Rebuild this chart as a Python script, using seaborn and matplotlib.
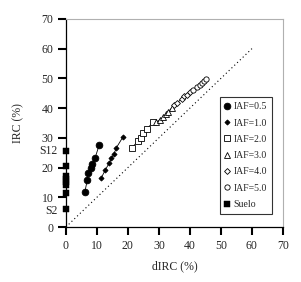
import matplotlib
matplotlib.use("Agg")
import matplotlib.pyplot as plt
import seaborn as sns

# datos
x_05 = [6.1, 6.9, 7.2, 8.0, 8.3, 9.4, 10.7]
y_05 = [11.8, 15.8, 18.1, 19.8, 21.2, 23.2, 27.5]
x_10 = [11.4, 12.7, 13.9, 14.7, 15.5, 16.3, 18.4]
y_10 = [16.5, 19.2, 21.4, 23.1, 24.6, 26.7, 30.3]
x_20 = [21.3, 23.3, 24.1, 24.9, 26.0, 28.2]
y_20 = [26.6, 29.0, 30.1, 31.5, 32.9, 35.3]
x_30 = [29.2, 30.3, 31.4, 32.2, 33.0, 34.1]
y_30 = [35.2, 36.1, 37.1, 38.0, 38.8, 40.0]
x_40 = [35.0, 35.8, 37.3, 38.2, 38.9, 40.0]
y_40 = [40.9, 41.6, 43.2, 43.9, 44.4, 45.3]
x_50 = [41.1, 42.4, 43.1, 43.8, 44.6, 45.3]
y_50 = [46.1, 47.2, 47.8, 48.4, 49.1, 49.8]
suelo_y = [6.1, 11.3, 14.2, 15.2, 16.2, 17.1, 20.5, 25.4]
suelo_x = [0] * len(suelo_y)
uno_a_uno = [0, 60]

sns.set_style("ticks")
plt.rcParams['font.family'] = ['Liberation Serif', 'DejaVu Serif']

fig = plt.figure(figsize=(3.01, 2.82), dpi=100)
ax = fig.add_axes([0.219, 0.195, 0.721, 0.738])

series = [
    (x_05, y_05, "IAF=0.5", "o", 4.8, "black"),
    (x_10, y_10, "IAF=1.0", "D", 2.6, "black"),
    (x_20, y_20, "IAF=2.0", "s", 4.2, "white"),
    (x_30, y_30, "IAF=3.0", "^", 3.8, "white"),
    (x_40, y_40, "IAF=4.0", "D", 3.0, "white"),
    (x_50, y_50, "IAF=5.0", "o", 3.8, "white"),
]
for xs, ys, lab, mk, ms, fc in series:
    sns.lineplot(x=xs, y=ys, ax=ax, sort=False, color="black", lw=0.6,
                 marker=mk, markersize=ms, markerfacecolor=fc,
                 markeredgecolor="black", markeredgewidth=0.6, label=lab)

sns.scatterplot(x=suelo_x, y=suelo_y, ax=ax, marker="s", s=16, color="black",
                edgecolor="black", label="Suelo", zorder=5, clip_on=False)

sns.lineplot(x=uno_a_uno, y=uno_a_uno, ax=ax, color="black", lw=0.8,
             linestyle=(0, (1, 2.5)), label="_nolegend_")

ax.set_xlim(0, 70)
ax.set_ylim(0, 70)
ax.set_xticks(range(0, 71, 10))
ax.set_yticks(range(0, 71, 10))
ax.tick_params(axis="both", direction="out", labelsize=8.5,
               length=6, width=1.5, color="black", pad=3)
ax.spines["top"].set_color("#b0b0b0")
ax.spines["right"].set_color("#b0b0b0")
for s in ["left", "bottom"]:
    ax.spines[s].set_color("black")
    ax.spines[s].set_linewidth(0.9)

ax.text(-2.8, 25.4, "S12", ha="right", va="center", fontsize=8.5)
ax.text(-2.8, 5.5, "S2", ha="right", va="center", fontsize=8.5)

ax.set_xlabel("dIRC (%)", fontsize=8.5, labelpad=6)
ax.set_ylabel("IRC (%)", fontsize=8.5, labelpad=12)

leg = ax.legend(loc="lower right", bbox_to_anchor=(0.97, 0.04), fontsize=7,
                frameon=True, fancybox=False, edgecolor="black",
                handlelength=0.6, handletextpad=0.3, labelspacing=0.75,
                borderpad=0.5)
leg.get_frame().set_linewidth(0.8)
for h in leg.get_lines():
    h.set_linestyle("none")

fig.savefig("out.png", dpi=100)
